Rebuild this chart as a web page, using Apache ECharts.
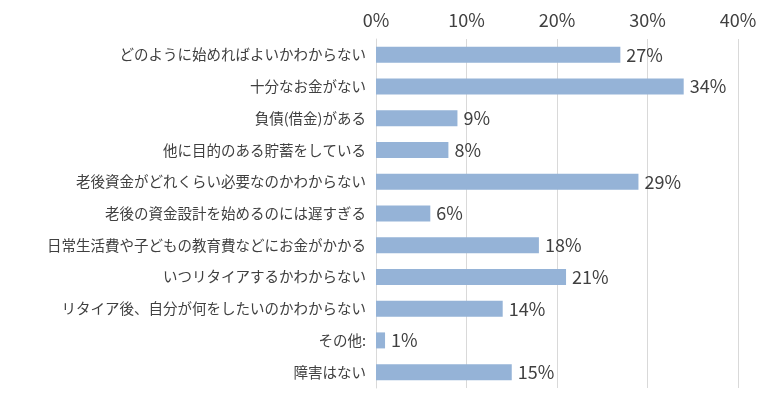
<!DOCTYPE html>
<html><head><meta charset="utf-8">
<script src="https://cdn.jsdelivr.net/npm/echarts@6/dist/echarts.min.js"></script>
<style>html,body{margin:0;padding:0;background:#fff}#c{width:780px;height:401px}</style>
</head><body><div id="c"></div>
<script>
var categories = [
  'どのように始めればよいかわからない',
  '十分なお金がない',
  '負債(借金)がある',
  '他に目的のある貯蓄をしている',
  '老後資金がどれくらい必要なのかわからない',
  '老後の資金設計を始めるのには遅すぎる',
  '日常生活費や子どもの教育費などにお金がかかる',
  'いつリタイアするかわからない',
  'リタイア後、自分が何をしたいのかわからない',
  'その他:',
  '障害はない'
];
var values = [27, 34, 9, 8, 29, 6, 18, 21, 14, 1, 15];

var chart = echarts.init(document.getElementById('c'));
chart.setOption({
  animation: false,
  textStyle: { fontFamily: 'Noto Sans CJK JP' },
  grid: { left: 376, right: 42, top: 39, bottom: 13 },
  xAxis: {
    type: 'value', position: 'top', min: 0, max: 40, interval: 10,
    axisLabel: { formatter: '{value}%', fontSize: 18, color: '#404040', margin: 10 },
    splitLine: { lineStyle: { color: '#d9d9d9' } },
    axisLine: { show: false }, axisTick: { show: false }
  },
  yAxis: {
    type: 'category', inverse: true, data: categories,
    axisLabel: { fontSize: 14.5, color: '#404040', margin: 10 },
    axisLine: { lineStyle: { color: '#d9d9d9' } }, axisTick: { show: false }
  },
  series: [{
    type: 'bar', data: values, barWidth: 16,
    itemStyle: { color: '#95b3d7' },
    label: { show: true, position: 'right', formatter: '{c}%', fontSize: 18, color: '#404040', distance: 6 }
  }]
});
</script></body></html>
